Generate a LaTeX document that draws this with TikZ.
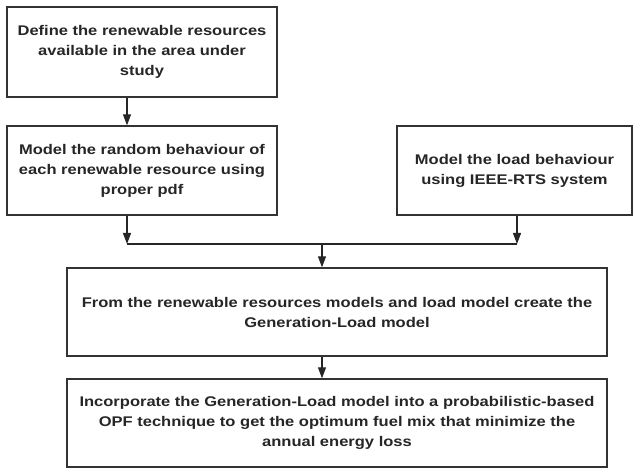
\documentclass[tikz,border=0pt]{standalone}
\usepackage{fontspec}
\setmainfont{Liberation Sans}[FakeStretch=1.18]
\usetikzlibrary{arrows.meta}
\begin{document}
\begin{tikzpicture}[x=1pt,y=-1pt,
  box/.style={draw=black!80, line width=1.4pt, fill=white, inner sep=0pt, align=center,
    font=\fontsize{14}{20}\selectfont\bfseries, text=black!85},
  arr/.style={line width=1.2pt, draw=black!85, -{Triangle[length=11pt,width=8pt]}},
  conn/.style={line width=1.2pt, draw=black!85}]
\useasboundingbox (0,0) rectangle (633,468);
\node[box, minimum width=270, minimum height=90] (b1) at (142,52)
  {Define the renewable resources\\available in the area under\\study};
\node[box, minimum width=270, minimum height=89] (b2) at (142,170.5)
  {Model the random behaviour of\\each renewable resource using\\proper pdf};
\node[box, minimum width=235, minimum height=89] (b3) at (514.5,170.5)
  {Model the load behaviour\\using IEEE-RTS system};
\node[box, minimum width=540, minimum height=88] (b4) at (337,312)
  {From the renewable resources models and load model create the\\Generation-Load model};
\node[box, minimum width=540, minimum height=88] (b5) at (337,423)
  {Incorporate the Generation-Load model into a probabilistic-based\\OPF technique to get the optimum fuel mix that minimize the\\annual energy loss};
\coordinate (jl) at (127,244);
\coordinate (jr) at (517,244);
\coordinate (jc) at (322,244);
\draw[arr] (b1.south -| jl) -- (b2.north -| jl);
\draw[arr] (b2.south -| jl) -- (jl);
\draw[arr] (b3.south -| jr) -- (jr);
\draw[conn] (jl) -- (jr);
\draw[arr] (jc) -- (b4.north -| jc);
\draw[arr] (b4.south -| jc) -- (b5.north -| jc);
\end{tikzpicture}
\end{document}
